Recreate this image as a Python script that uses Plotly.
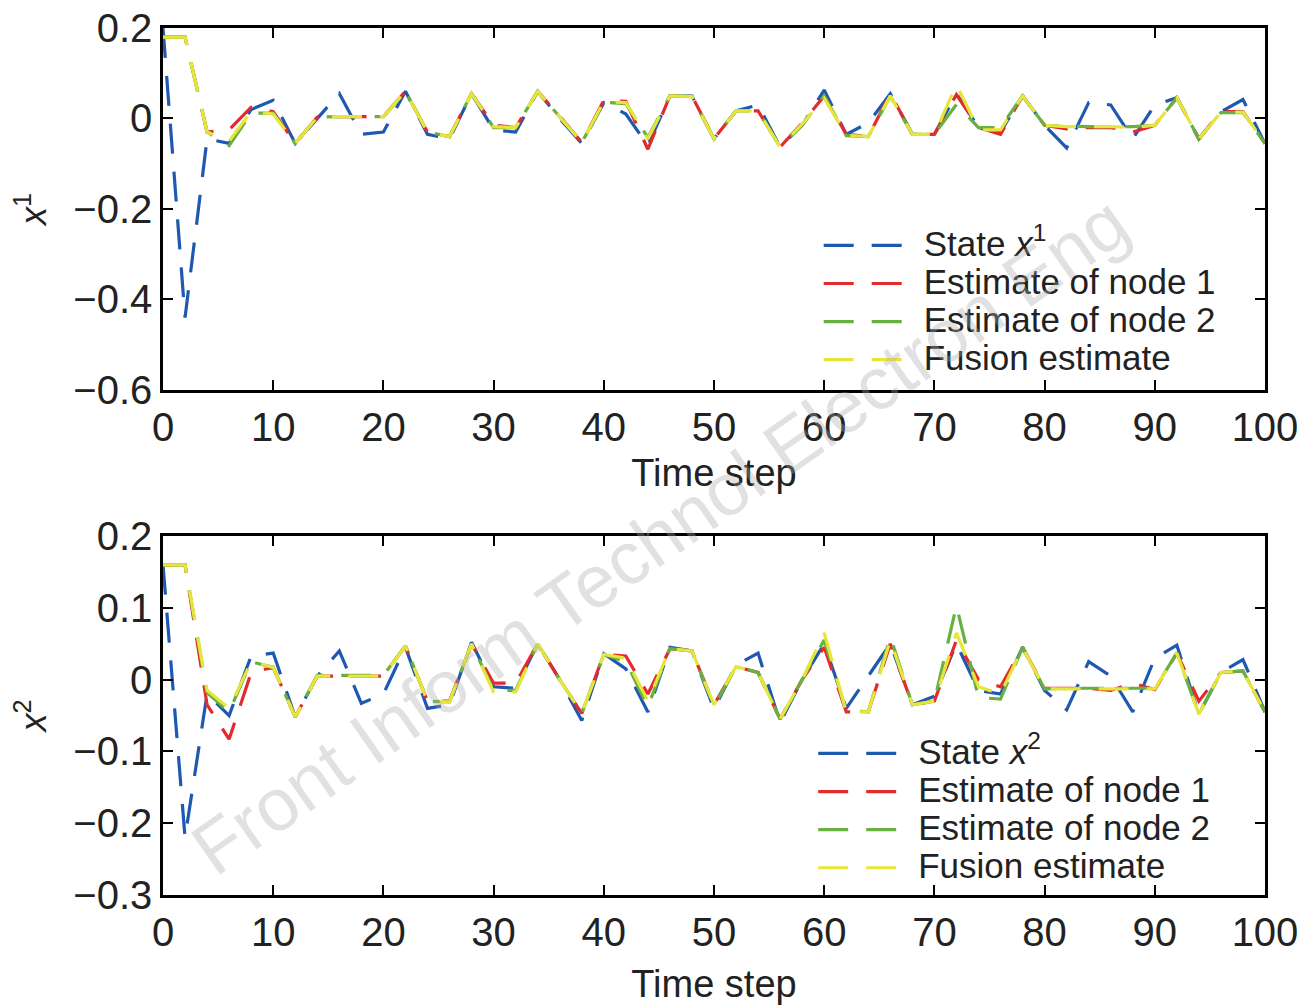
import plotly.graph_objects as go

t = list(range(0, 101, 2))

# ---- x1 (top panel) ----
x1_state = [0.20, -0.44, -0.045, -0.055, 0.02, 0.04, -0.055, 0.0, 0.055, -0.035, -0.03,
            0.06, -0.035, -0.045, 0.055, -0.025, -0.03, 0.06, 0.0, -0.055, 0.035,
            0.01, -0.06, 0.05, 0.05, -0.045, 0.017, 0.03, -0.063, -0.015, 0.063,
            -0.035, -0.01, 0.055, -0.035, -0.035, 0.055, -0.02, -0.03, 0.05, -0.015,
            -0.065, 0.035, 0.03, -0.045, 0.03, 0.046, -0.045, 0.015, 0.042, -0.056]
x1_node1 = [0.18, 0.18, -0.03, -0.025, 0.025, 0.015, -0.055, 0.003, 0.004, 0.004, 0.004,
            0.06, -0.03, -0.04, 0.055, -0.015, -0.02, 0.06, 0.005, -0.053, 0.04,
            0.038, -0.068, 0.05, 0.05, -0.045, 0.017, 0.017, -0.063, -0.01, 0.05,
            -0.035, -0.04, 0.055, -0.035, -0.035, 0.053, -0.02, -0.035, 0.05, -0.015,
            -0.023, -0.02, -0.02, -0.03, -0.015, 0.046, -0.045, 0.015, 0.015, -0.055]
x1_node2 = [0.18, 0.18, -0.03, -0.06, 0.012, 0.012, -0.055, 0.003, 0.004, 0.004, 0.004,
            0.06, -0.03, -0.04, 0.055, -0.02, -0.02, 0.06, 0.003, -0.053, 0.036,
            0.033, -0.042, 0.05, 0.048, -0.045, 0.017, 0.017, -0.063, -0.015, 0.05,
            -0.038, -0.04, 0.05, -0.035, -0.035, 0.031, -0.02, -0.02, 0.05, -0.015,
            -0.017, -0.018, -0.018, -0.018, -0.015, 0.046, -0.045, 0.013, 0.013, -0.055]
x1_fusion = [0.18, 0.18, -0.03, -0.05, 0.015, 0.01, -0.055, 0.003, 0.004, 0.004, 0.004,
             0.06, -0.03, -0.04, 0.055, -0.018, -0.02, 0.06, 0.003, -0.053, 0.037,
             0.035, -0.045, 0.05, 0.049, -0.045, 0.017, 0.017, -0.063, -0.012, 0.045,
             -0.037, -0.04, 0.05, -0.035, -0.035, 0.075, -0.025, -0.025, 0.05, -0.015,
             -0.018, -0.018, -0.018, -0.02, -0.015, 0.046, -0.045, 0.014, 0.014, -0.055]

# ---- x2 (bottom panel) ----
x2_state = [0.16, -0.22, -0.02, -0.05, 0.033, 0.037, -0.052, 0.005, 0.04, -0.033, -0.02,
            0.045, -0.04, -0.035, 0.052, -0.01, -0.012, 0.05, 0.0, -0.057, 0.036,
            0.015, -0.045, 0.045, 0.04, -0.041, 0.02, 0.037, -0.06, 0.0, 0.05,
            -0.04, 0.005, 0.05, -0.035, -0.023, 0.05, -0.015, -0.02, 0.045, -0.015,
            -0.042, 0.025, 0.005, -0.045, 0.03, 0.048, -0.048, 0.01, 0.028, -0.045]
x2_node1 = [0.16, 0.16, -0.035, -0.083, 0.01, 0.017, -0.052, 0.005, 0.005, 0.005, 0.005,
            0.047, -0.03, -0.03, 0.05, -0.005, -0.005, 0.05, 0.0, -0.047, 0.035,
            0.033, -0.02, 0.043, 0.04, -0.035, 0.018, 0.01, -0.055, 0.0, 0.045,
            -0.045, -0.045, 0.05, -0.035, -0.03, 0.055, 0.0, -0.01, 0.045, -0.012,
            -0.012, -0.012, -0.015, -0.005, -0.014, 0.037, -0.03, 0.01, 0.012, -0.045]
x2_node2 = [0.16, 0.16, -0.018, -0.045, 0.025, 0.017, -0.052, 0.006, 0.006, 0.006, 0.006,
            0.047, -0.03, -0.031, 0.05, -0.015, -0.015, 0.05, 0.0, -0.047, 0.035,
            0.025, -0.038, 0.043, 0.04, -0.037, 0.018, 0.01, -0.055, 0.0, 0.055,
            -0.043, -0.045, 0.06, -0.035, -0.03, 0.103, -0.025, -0.027, 0.045, -0.013,
            -0.012, -0.012, -0.012, -0.012, -0.012, 0.037, -0.048, 0.01, 0.012, -0.045]
x2_fusion = [0.16, 0.16, -0.015, -0.04, 0.025, 0.017, -0.052, 0.005, 0.005, 0.005, 0.005,
             0.047, -0.03, -0.031, 0.05, -0.017, -0.017, 0.05, 0.0, -0.047, 0.035,
             0.03, -0.03, 0.043, 0.04, -0.035, 0.018, 0.01, -0.055, 0.0, 0.065,
             -0.045, -0.045, 0.055, -0.035, -0.03, 0.065, -0.01, -0.02, 0.045, -0.013,
             -0.013, -0.013, -0.013, -0.013, -0.013, 0.037, -0.048, 0.01, 0.012, -0.045]

names_top = ["State <i>x</i><sup>1</sup>", "Estimate of node 1", "Estimate of node 2", "Fusion estimate"]
names_bot = ["State <i>x</i><sup>2</sup>", "Estimate of node 1", "Estimate of node 2", "Fusion estimate"]
colors = ["#1f58b0", "#e32b2b", "#68b040", "#e6e63a"]

x_ticks = list(range(0, 101, 10))
y1_ticks = [-0.6, -0.4, -0.2, 0, 0.2]
y1_labels = ["\u22120.6", "\u22120.4", "\u22120.2", "0", "0.2"]
y2_ticks = [-0.3, -0.2, -0.1, 0, 0.1, 0.2]
y2_labels = ["\u22120.3", "\u22120.2", "\u22120.1", "0", "0.1", "0.2"]

FONT = "Liberation Sans, Arial, sans-serif"
DASH = "30px,18px"


def big(s):
    return '<span style="font-size:35px">' + s + '</span>'


fig = go.Figure()
for name, ys, c in zip(names_top, [x1_state, x1_node1, x1_node2, x1_fusion], colors):
    fig.add_trace(go.Scatter(x=t, y=ys, mode="lines", name=big(name),
                             line=dict(color=c, width=3.2, dash=DASH),
                             xaxis="x", yaxis="y", legend="legend"))
for name, ys, c in zip(names_bot, [x2_state, x2_node1, x2_node2, x2_fusion], colors):
    fig.add_trace(go.Scatter(x=t, y=ys, mode="lines", name=big(name),
                             line=dict(color=c, width=3.2, dash=DASH),
                             xaxis="x2", yaxis="y2", legend="legend2"))

axis_common = dict(showline=True, linecolor="black", linewidth=2.5, mirror="ticks",
                   ticks="inside", ticklen=10, tickwidth=2, tickcolor="black",
                   showgrid=False, zeroline=False, automargin=False,
                   ticklabeloverflow="allow",
                   tickfont=dict(family=FONT, size=40, color="#222"))

# the page body adds an 8px offset, so the figure is 8px smaller on each axis
fig.update_layout(
    width=1297, height=998,
    margin=dict(l=155, r=40, t=20, b=111, autoexpand=False),
    paper_bgcolor="white", plot_bgcolor="white",
    font=dict(family=FONT, color="#222"),
    xaxis=dict(domain=[0, 1], range=[0, 100], tickvals=x_ticks, anchor="y",
               title=dict(text="Time step", font=dict(size=38), standoff=12), **axis_common),
    yaxis=dict(domain=[0.5825, 1], range=[-0.6, 0.2], tickvals=y1_ticks, ticktext=y1_labels,
               anchor="x", title=dict(text="<i>x</i><sup>1</sup>", font=dict(size=36), standoff=20),
               **axis_common),
    xaxis2=dict(domain=[0, 1], range=[0, 100], tickvals=x_ticks, anchor="y2",
                title=dict(text="Time step", font=dict(size=38), standoff=18), **axis_common),
    yaxis2=dict(domain=[0, 0.414], range=[-0.3, 0.2], tickvals=y2_ticks, ticktext=y2_labels,
                anchor="x2", title=dict(text="<i>x</i><sup>2</sup>", font=dict(size=36), standoff=20),
                **axis_common),
    legend=dict(x=0.595, y=0.683, xanchor="left", yanchor="middle", bgcolor="rgba(0,0,0,0)",
                font=dict(family=FONT, size=27, color="#222"), itemwidth=95, tracegroupgap=0),
    legend2=dict(x=0.590, y=0.097, xanchor="left", yanchor="middle", bgcolor="rgba(0,0,0,0)",
                 font=dict(family=FONT, size=27, color="#222"), itemwidth=95, tracegroupgap=0),
    showlegend=True,
    annotations=[dict(text="Front Inform Technol Electron Eng", xref="paper", yref="paper",
                      x=0.451, y=0.415, showarrow=False, textangle=-35,
                      font=dict(family=FONT, size=74, color="rgba(170,170,170,0.35)"))],
)

fig.write_html("out.html")
